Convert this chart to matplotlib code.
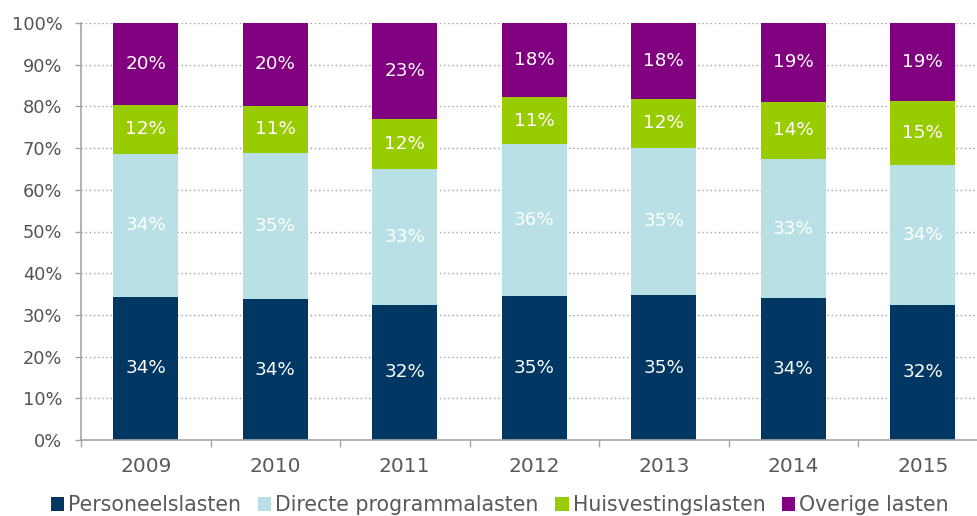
import matplotlib
matplotlib.use("Agg")
import matplotlib.pyplot as plt
import numpy as np

# Cost distribution per year (share of total, %)
years = ["2009", "2010", "2011", "2012", "2013", "2014", "2015"]
personeelslasten = [34.3, 33.7, 32.4, 34.6, 34.7, 34.0, 32.4]
directe_programmalasten = [34.4, 35.2, 32.6, 36.3, 35.4, 33.4, 33.6]
huisvestingslasten = [11.7, 11.3, 12.0, 11.3, 11.7, 13.7, 15.3]
overige_lasten = [19.6, 19.8, 23.0, 17.8, 18.2, 18.9, 18.7]

series_names = ["Personeelslasten", "Directe programmalasten",
                "Huisvestingslasten", "Overige lasten"]
series_values = [personeelslasten, directe_programmalasten,
                 huisvestingslasten, overige_lasten]
colors = ["#003763", "#B9E0E4", "#99CC00", "#800080"]
yticks = [0, 10, 20, 30, 40, 50, 60, 70, 80, 90, 100]

plt.rcParams["font.family"] = ["DejaVu Sans"]

W, H = 977, 516
fig = plt.figure(figsize=(W / 100, H / 100), dpi=100)
ax = fig.add_axes([81 / W, 76 / H, (987.5 - 81) / W, 417 / H])

x = np.arange(len(years))
bottom = np.zeros(len(years))
for name, vals, col in zip(series_names, series_values, colors):
    vals = np.array(vals)
    ax.bar(x, vals, width=0.5, bottom=bottom, color=col,
           label=name, zorder=3, linewidth=0)
    for xi, b, v in zip(x, bottom, vals):
        ax.text(xi, b + v / 2, f"{v:.0f}%", ha="center", va="center",
                color="white", fontsize=13.2, zorder=4)
    bottom += vals

ax.set_xlim(-0.5, len(years) - 0.5)
ax.set_ylim(0, 100)

# y axis
ax.set_yticks(yticks)
ax.set_yticklabels([f"{t}%" for t in yticks])
ax.tick_params(axis="y", direction="out", length=4.5, width=1,
               color="#A6A6A6", pad=9, labelsize=12.8, labelcolor="#595350")
ax.yaxis.grid(True, linestyle=(0, (1, 2)), color="#A0A0A0", linewidth=1,
              zorder=0)

# x axis: ticks at category boundaries, labels at centres
ax.set_xticks(np.arange(-0.5, len(years), 1.0))
ax.set_xticklabels([])
ax.set_xticks(x, minor=True)
ax.set_xticklabels(years, minor=True)
ax.tick_params(axis="x", which="major", direction="out", length=5,
               width=1, color="#A6A6A6")
ax.tick_params(axis="x", which="minor", length=0, pad=12,
               labelsize=14.5, labelcolor="#595959")

for side in ["top", "right"]:
    ax.spines[side].set_visible(False)
for side in ["left", "bottom"]:
    ax.spines[side].set_color("#A6A6A6")
    ax.spines[side].set_linewidth(1.2)
    ax.spines[side].set_zorder(5)

leg = fig.legend(loc="center", bbox_to_anchor=(500 / W, 1 - 505 / H),
                 ncol=4, frameon=False, fontsize=14.8,
                 handlelength=0.65, handleheight=0.65, handletextpad=0.2,
                 columnspacing=0.8, borderaxespad=0, borderpad=0)
for t in leg.get_texts():
    t.set_color("#595959")

fig.savefig("out.png", dpi=100)
